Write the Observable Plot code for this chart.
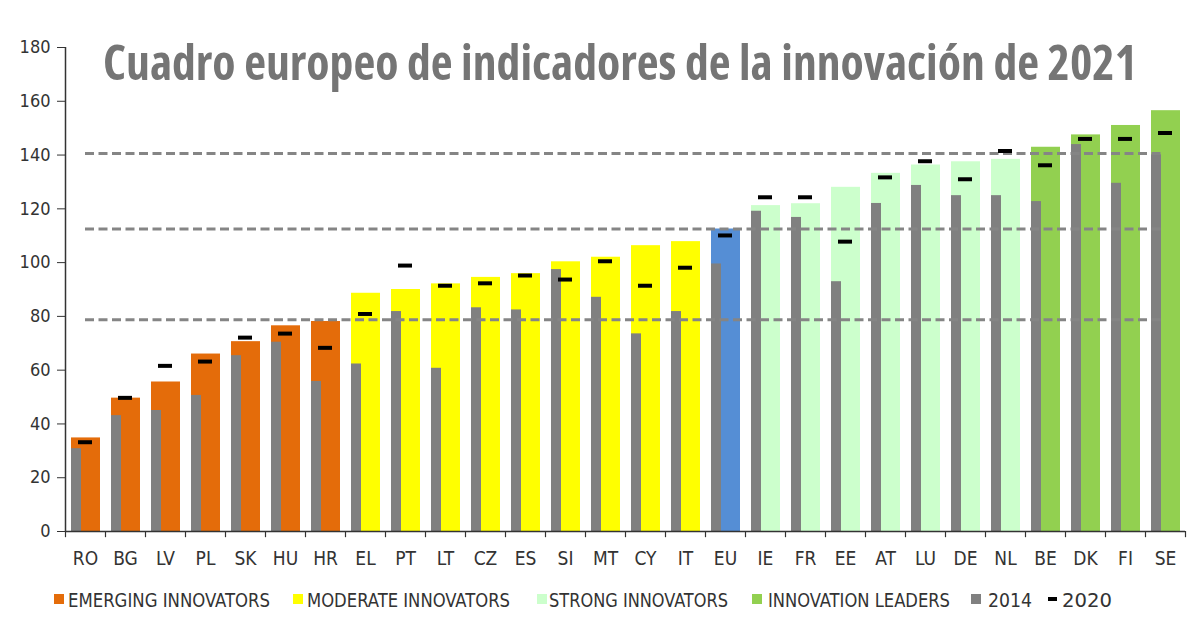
<!DOCTYPE html>
<html>
<head>
<meta charset="utf-8">
<script src="https://cdn.jsdelivr.net/npm/d3@7"></script>
<script src="https://cdn.jsdelivr.net/npm/@observablehq/plot@0.6"></script>
<style>
  html, body { margin: 0; padding: 0; background: #fff; }
  #wrap { position: relative; width: 1200px; height: 630px; overflow: hidden; }
  #wrap > svg { position: absolute; left: 0; top: 0; }
  .cond { font-family: "DejaVu Sans Condensed", "DejaVu Sans", sans-serif; font-stretch: condensed; }
</style>
</head>
<body>
<div id="wrap"></div>
<script>
// ---- Data ----
const countries = ["RO","BG","LV","PL","SK","HU","HR","EL","PT","LT","CZ","ES","SI","MT","CY","IT","EU","IE","FR","EE","AT","LU","DE","NL","BE","DK","FI","SE"];
const groups    = ["E","E","E","E","E","E","E","M","M","M","M","M","M","M","M","M","EU","S","S","S","S","S","S","S","L","L","L","L"];
const score2021 = [34.8,49.6,55.6,66.0,70.6,76.5,78.1,88.6,90.0,92.1,94.5,95.9,100.3,102.0,106.3,107.8,112.5,121.2,121.9,128.0,133.2,136.3,137.5,138.4,142.9,147.5,151.0,156.5];
const score2014 = [30.8,43.1,45.0,50.6,65.4,70.4,55.8,62.3,81.8,60.7,83.2,82.4,97.4,87.1,73.5,81.8,99.5,119.1,116.8,92.9,122.0,128.7,124.9,124.9,122.7,143.9,129.5,140.1];
const score2020 = [33.2,49.7,61.6,63.2,72.1,73.6,68.3,80.9,98.9,91.4,92.3,95.2,93.7,100.5,91.4,98.1,110.1,124.3,124.3,107.8,131.7,137.7,131.0,141.5,136.2,146.0,146.0,148.2];
const thresholds = [78.75, 112.5, 140.6];
const yTicks = [0,20,40,60,80,100,120,140,160,180];
const groupKeys   = ["E","M","S","L","EU"];
const groupColors = ["#e46c0a","#ffff00","#ccffcc","#92d050","#558ed5"];
const legendLabels = ["EMERGING INNOVATORS","MODERATE INNOVATORS","STRONG INNOVATORS","INNOVATION LEADERS","2014","2020"];
const titleText = "Cuadro europeo de indicadores de la innovación de 2021";

const rows = countries.map((c, i) => ({c, g: groups[i], v21: score2021[i], v14: score2014[i], v20: score2020[i]}));

const chart = Plot.plot({
  width: 1200,
  height: 630,
  marginLeft: 65,
  marginRight: 15,
  marginTop: 47,
  marginBottom: 99,
  style: {fontFamily: "'DejaVu Sans Condensed', 'DejaVu Sans', sans-serif", fontStretch: "condensed", color: "#333", background: "#fff"},
  x: {domain: countries, padding: 0, label: null},
  y: {domain: [0, 180], label: null},
  color: {domain: groupKeys, range: groupColors},
  marks: [
    Plot.barY(rows, {x: "c", y: "v21", fill: "g", insetLeft: 6, insetRight: 5}),
    Plot.barY(rows, {x: "c", y: "v14", fill: "#808080", insetLeft: 6, insetRight: 24}),
    Plot.ruleY(thresholds, {stroke: "#858585", strokeWidth: 3, strokeDasharray: "9,4.5", insetLeft: 20, insetRight: 23}),
    Plot.tickY(rows, {x: "c", y: "v20", stroke: "#000", strokeWidth: 4, insetLeft: 13, insetRight: 13}),
    Plot.ruleY([0], {stroke: "#333", strokeWidth: 1.5}),
    Plot.ruleX(countries.slice(0, 1), {dx: -20, y1: 0, y2: 180, stroke: "#333", strokeWidth: 1.5}),
    Plot.ruleX(countries, {dx: -20, y1: 0, y2: -2.3, stroke: "#333", strokeWidth: 1.2}),
    Plot.ruleX(countries.slice(-1), {dx: 20, y1: 0, y2: -2.3, stroke: "#333", strokeWidth: 1.2}),
    Plot.axisY({ticks: yTicks, tickSize: 8, tickPadding: 7, fontSize: 18, tickFormat: d => String(d), stroke: "#333", fontStretch: "normal", fontFamily: "DejaVu Sans"}),
    Plot.axisX({tickSize: 0, tickPadding: 20, fontSize: 19, label: null})
  ]
});

const wrap = document.getElementById("wrap");
wrap.appendChild(chart);

// ---- Overlay: title and legend ----
const ov = d3.select(wrap).append("svg")
  .attr("width", 1200).attr("height", 630)
  .style("pointer-events", "none");

ov.append("text")
  .attr("x", 103).attr("y", 80)
  .attr("font-family", "'Open Sans', sans-serif")
  .attr("font-weight", 700)
  .style("font-stretch", "condensed")
  .attr("font-size", 49)
  .attr("fill", "#757575")
  .attr("textLength", 1034)
  .attr("lengthAdjust", "spacingAndGlyphs")
  .text(titleText);

const legSwatchX = [54, 293, 537, 752, 971, 1048];
const legTextX   = [68, 307, 549, 768, 988, 1062];
const legTextW   = [202, 203, 179, 182, 44, 50];
const legColors  = groupColors.slice(0, 4).concat(["#808080", "#000"]);

legendLabels.forEach((lab, i) => {
  if (i < 5) {
    ov.append("rect").attr("x", legSwatchX[i]).attr("y", 594).attr("width", 10).attr("height", 10).attr("fill", legColors[i]);
  } else {
    ov.append("rect").attr("x", legSwatchX[i]).attr("y", 597).attr("width", 9).attr("height", 4).attr("fill", legColors[i]);
  }
  ov.append("text")
    .attr("class", "cond")
    .attr("x", legTextX[i]).attr("y", 607)
    .attr("font-size", 19)
    .attr("fill", "#333")
    .attr("textLength", legTextW[i])
    .attr("lengthAdjust", "spacingAndGlyphs")
    .text(lab);
});
</script>
</body>
</html>
